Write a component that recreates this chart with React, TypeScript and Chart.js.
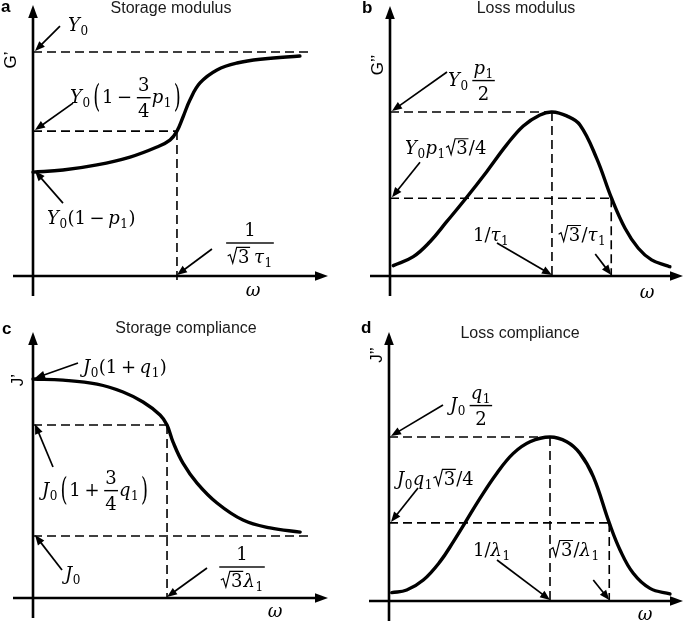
import React, { useEffect, useRef } from 'react';
import { Chart, registerables } from 'chart.js';
Chart.register(...registerables);

// ---------------- DATA (normalised units) ----------------
// a: Storage modulus G'(ω); x in units of 1/(√3 τ1), y in units of Y0
const storageModulusOmega = [0, 0.208, 0.444, 0.674, 0.861, 0.951, 1.0, 1.042, 1.09, 1.16, 1.278, 1.417, 1.597, 1.854];
const storageModulusValue = [0.464, 0.473, 0.496, 0.531, 0.576, 0.607, 0.647, 0.71, 0.786, 0.862, 0.92, 0.951, 0.969, 0.982];
const storageModulusLevels = [1, 0.647, 0.464]; // Y0, Y0(1-3/4 p1), Y0(1-p1)
const storageModulusFreq = [1]; // 1/(√3 τ1)
const storageModulusGuideEnd = 1.924;
const storageModulusGuideLow = -0.027;

// b: Loss modulus G''(ω); x in units of 1/τ1, y in units of Y0 p1/2
const lossModulusOmega = [0.02, 0.144, 0.247, 0.35, 0.469, 0.597, 0.72, 0.823, 0.926, 1.0, 1.091, 1.173, 1.276, 1.368, 1.451, 1.533, 1.615, 1.708, 1.728];
const lossModulusValue = [0.063, 0.118, 0.209, 0.331, 0.474, 0.636, 0.799, 0.915, 0.982, 1.0, 0.976, 0.921, 0.717, 0.474, 0.291, 0.169, 0.098, 0.063, 0.057];
const lossModulusLevels = [1, 0.474]; // Y0 p1/2, Y0 p1 √3/4
const lossModulusFreq = [1, 1.366]; // 1/τ1, √3/τ1

// c: Storage compliance J'(ω); x in units of 1/(√3 λ1), y in units of J0(1+q1)
const storageComplianceOmega = [0, 0.224, 0.478, 0.672, 0.821, 0.948, 1.0, 1.045, 1.119, 1.224, 1.373, 1.567, 1.769, 1.993];
const storageComplianceValue = [1.0, 0.995, 0.977, 0.941, 0.895, 0.836, 0.79, 0.712, 0.616, 0.525, 0.434, 0.356, 0.32, 0.301];
const storageComplianceLevels = [1, 0.79, 0.283]; // J0(1+q1), J0(1+3/4 q1), J0
const storageComplianceFreq = [1]; // 1/(√3 λ1)
const storageComplianceGuideEnd = 2.067;

// d: Loss compliance J''(ω); x in units of 1/λ1, y in units of J0 q1/2
const lossComplianceOmega = [0.017, 0.11, 0.213, 0.317, 0.4, 0.472, 0.565, 0.669, 0.772, 0.876, 1.0, 1.104, 1.186, 1.269, 1.368, 1.435, 1.517, 1.621, 1.745];
const lossComplianceValue = [0.051, 0.067, 0.128, 0.24, 0.362, 0.476, 0.626, 0.778, 0.9, 0.971, 1.0, 0.971, 0.9, 0.758, 0.476, 0.311, 0.169, 0.077, 0.043];
const lossComplianceLevels = [1, 0.476]; // J0 q1/2, J0 q1 √3/4
const lossComplianceFreq = [1, 1.368]; // 1/λ1, √3/λ1

// ---------------- math text helpers ----------------
const SERIF = '"DejaVu Serif", "Liberation Serif", serif';
const SANS = '"Liberation Sans", Arial, sans-serif';
const INK = '#000';
const FS = 18;

type M =
  | { k: 'i' | 'r' | 'sub' | 'op'; s: string }
  | { k: 'sp'; w: number }
  | { k: 'frac'; n: M[]; d: M[] }
  | { k: 'sqrt'; b: M[] }
  | { k: 'paren'; b: M[] };

const I = (s: string): M => ({ k: 'i', s });
const R = (s: string): M => ({ k: 'r', s });
const S = (s: string): M => ({ k: 'sub', s });
const OP = (s: string): M => ({ k: 'op', s });
const SP = (w: number): M => ({ k: 'sp', w });
const FR = (n: M[], d: M[]): M => ({ k: 'frac', n, d });
const SQ = (b: M[]): M => ({ k: 'sqrt', b });
const PA = (b: M[]): M => ({ k: 'paren', b });

function mathRender(ctx: CanvasRenderingContext2D, items: M[], x: number, y: number, fs: number, draw: boolean): number {
  let cx = x;
  for (const it of items) {
    if (it.k === 'i' || it.k === 'r') {
      ctx.font = `${it.k === 'i' ? 'italic ' : ''}${fs}px ${SERIF}`;
      if (draw) ctx.fillText((it as any).s, cx, y);
      cx += ctx.measureText((it as any).s).width;
    } else if (it.k === 'sub') {
      const s = Math.round(fs * 0.68);
      ctx.font = `${s}px ${SERIF}`;
      if (draw) ctx.fillText(it.s, cx + 0.5, y + fs * 0.22);
      cx += ctx.measureText(it.s).width + 1;
    } else if (it.k === 'op') {
      ctx.font = `${fs}px ${SERIF}`;
      const g = fs * 0.2;
      if (draw) ctx.fillText(it.s, cx + g, y);
      cx += ctx.measureText(it.s).width + 2 * g;
    } else if (it.k === 'sp') {
      cx += it.w * fs;
    } else if (it.k === 'frac') {
      const nw = mathRender(ctx, it.n, 0, 0, fs, false);
      const dw = mathRender(ctx, it.d, 0, 0, fs, false);
      const w = Math.max(nw, dw) + fs * 0.25;
      const axis = y - fs * 0.3;
      if (draw) {
        mathRender(ctx, it.n, cx + (w - nw) / 2, axis - fs * 0.38, fs, true);
        mathRender(ctx, it.d, cx + (w - dw) / 2, axis + fs * 1.1, fs, true);
        ctx.fillRect(cx + fs * 0.06, axis - 0.7, w - fs * 0.12, 1.4);
      }
      cx += w;
    } else if (it.k === 'sqrt') {
      const bw = mathRender(ctx, it.b, 0, 0, fs, false);
      const rw = fs * 0.55;
      if (draw) {
        const top = y - fs * 0.86;
        ctx.save();
        ctx.lineWidth = Math.max(1.1, fs * 0.065);
        ctx.beginPath();
        ctx.moveTo(cx + fs * 0.02, y - fs * 0.38);
        ctx.lineTo(cx + rw * 0.28, y - fs * 0.46);
        ctx.lineTo(cx + rw * 0.55, y + fs * 0.02);
        ctx.lineTo(cx + rw * 0.95, top);
        ctx.lineTo(cx + rw + bw + fs * 0.08, top);
        ctx.stroke();
        ctx.restore();
        mathRender(ctx, it.b, cx + rw + fs * 0.04, y, fs, true);
      }
      cx += rw + bw + fs * 0.1;
    } else if (it.k === 'paren') {
      const bw = mathRender(ctx, it.b, 0, 0, fs, false);
      ctx.font = `${fs}px ${SERIF}`;
      const pw = ctx.measureText('(').width;
      const sc = 1.8;
      const axis = y - fs * 0.3;
      if (draw) {
        const drawP = (ch: string, px: number) => {
          ctx.save();
          ctx.translate(px, axis);
          ctx.scale(1, sc);
          ctx.font = `${fs}px ${SERIF}`;
          ctx.fillText(ch, 0, fs * 0.3);
          ctx.restore();
        };
        drawP('(', cx);
        mathRender(ctx, it.b, cx + pw + fs * 0.1, y, fs, true);
        drawP(')', cx + pw + fs * 0.2 + bw);
      }
      cx += 2 * pw + bw + fs * 0.2;
    }
  }
  return cx - x;
}

function arrow(ctx: CanvasRenderingContext2D, x1: number, y1: number, x2: number, y2: number) {
  const ang = Math.atan2(y2 - y1, x2 - x1);
  const L = 10, W = 4;
  const c = Math.cos(ang), s = Math.sin(ang);
  ctx.lineWidth = 1.7;
  ctx.beginPath();
  ctx.moveTo(x1, y1);
  ctx.lineTo(x2 - L * 0.8 * c, y2 - L * 0.8 * s);
  ctx.stroke();
  ctx.beginPath();
  ctx.moveTo(x2, y2);
  ctx.lineTo(x2 - L * c + W * s, y2 - L * s - W * c);
  ctx.lineTo(x2 - L * c - W * s, y2 - L * s + W * c);
  ctx.closePath();
  ctx.fill();
}

// ---------------- panel specs ----------------
interface Ann { tip: [number, number]; tail: [number, number]; at: [number, number]; label: M[]; center?: boolean }
interface Panel {
  x: number; y: number; w: number; h: number;
  pad: [number, number, number, number];
  xMax: number; yMax: number;
  letter: string; letterPos: [number, number];
  title: string; titlePos: [number, number];
  ylabel: string; ylabelPos: [number, number];
  omegaPos: [number, number];
  curveX: number[]; curveY: number[];
  guides: { x: number; y: number }[][];
  anns: Ann[];
}

const panels: Panel[] = [
  {
    x: 0, y: 0, w: 342, h: 311, pad: [33, 5, 14, 35], xMax: 2.049, yMax: 1.21,
    letter: 'a', letterPos: [1, 12], title: 'Storage modulus', titlePos: [171, 9],
    ylabel: 'G’', ylabelPos: [11, 60], omegaPos: [253, 296],
    curveX: storageModulusOmega, curveY: storageModulusValue,
    guides: [
      [{ x: 0, y: storageModulusLevels[0] }, { x: storageModulusGuideEnd, y: storageModulusLevels[0] }],
      [{ x: 0, y: storageModulusLevels[1] }, { x: storageModulusFreq[0], y: storageModulusLevels[1] }],
      [{ x: storageModulusFreq[0], y: storageModulusLevels[1] }, { x: storageModulusFreq[0], y: storageModulusGuideLow }],
    ],
    anns: [
      { tip: [0, storageModulusLevels[0]], tail: [27, -26], at: [35, -21], label: [I('Y'), S('0')] },
      { tip: [0, storageModulusLevels[1]], tail: [40, -28], at: [37, -28], label: [I('Y'), S('0'), SP(0.15), PA([R('1'), OP('−'), FR([R('3')], [R('4')]), I('p'), S('1')])] },
      { tip: [0, storageModulusLevels[2]], tail: [30, 31], at: [14, 52], label: [I('Y'), S('0'), R('('), R('1'), OP('−'), I('p'), S('1'), R(')')] },
      { tip: [storageModulusFreq[0], 0], tail: [35, -27], at: [73, -33], center: true, label: [FR([R('1')], [SQ([R('3')]), SP(0.2), I('τ'), S('1')])] },
    ],
  },
  {
    x: 342, y: 0, w: 343, h: 311, pad: [48, 6, 2, 35], xMax: 1.809, yMax: 1.646,
    letter: 'b', letterPos: [20, 13], title: 'Loss modulus', titlePos: [184, 9],
    ylabel: 'G’’', ylabelPos: [36, 65], omegaPos: [305, 298],
    curveX: lossModulusOmega, curveY: lossModulusValue,
    guides: [
      [{ x: 0, y: lossModulusLevels[0] }, { x: lossModulusFreq[0], y: lossModulusLevels[0] }],
      [{ x: lossModulusFreq[0], y: lossModulusLevels[0] }, { x: lossModulusFreq[0], y: 0 }],
      [{ x: 0, y: lossModulusLevels[1] }, { x: lossModulusFreq[1], y: lossModulusLevels[1] }],
      [{ x: lossModulusFreq[1], y: lossModulusLevels[1] }, { x: lossModulusFreq[1], y: 0 }],
    ],
    anns: [
      { tip: [0, lossModulusLevels[0]], tail: [57, -40], at: [58, -26], label: [I('Y'), S('0'), SP(0.15), FR([I('p'), S('1')], [R('2')])] },
      { tip: [0, lossModulusLevels[1]], tail: [30, -36], at: [15, -44], label: [I('Y'), S('0'), I('p'), S('1'), SQ([R('3')]), R('/'), R('4')] },
      { tip: [lossModulusFreq[0], 0], tail: [-55, -33], at: [-79, -35], label: [R('1'), R('/'), I('τ'), S('1')] },
      { tip: [lossModulusFreq[1], 0], tail: [-16, -22], at: [-53, -35], label: [SQ([R('3')]), R('/'), I('τ'), S('1')] },
    ],
  },
  {
    x: 0, y: 311, w: 342, h: 312, pad: [33, 21, 14, 25], xMax: 2.201, yMax: 1.215,
    letter: 'c', letterPos: [2, 23], title: 'Storage compliance', titlePos: [186, 18],
    ylabel: 'J’', ylabelPos: [18, 69], omegaPos: [275, 306],
    curveX: storageComplianceOmega, curveY: storageComplianceValue,
    guides: [
      [{ x: 0, y: storageComplianceLevels[1] }, { x: storageComplianceFreq[0], y: storageComplianceLevels[1] }],
      [{ x: storageComplianceFreq[0], y: storageComplianceLevels[1] }, { x: storageComplianceFreq[0], y: 0 }],
      [{ x: 0, y: storageComplianceLevels[2] }, { x: storageComplianceGuideEnd, y: storageComplianceLevels[2] }],
    ],
    anns: [
      { tip: [0, storageComplianceLevels[0]], tail: [45, -16], at: [50, -6], label: [I('J'), S('0'), R('('), R('1'), OP('+'), I('q'), S('1'), R(')')] },
      { tip: [0, storageComplianceLevels[1]], tail: [20, 42], at: [9, 71], label: [I('J'), S('0'), SP(0.15), PA([R('1'), OP('+'), FR([R('3')], [R('4')]), I('q'), S('1')])] },
      { tip: [0, storageComplianceLevels[2]], tail: [29, 34], at: [32, 44], label: [I('J'), S('0')] },
      { tip: [storageComplianceFreq[0], 0], tail: [40, -30], at: [75, -31], center: true, label: [FR([R('1')], [SQ([R('3')]), I('λ'), S('1')])] },
    ],
  },
  {
    x: 342, y: 311, w: 343, h: 312, pad: [47, 21, 2, 22], xMax: 1.826, yMax: 1.64,
    letter: 'd', letterPos: [19, 22], title: 'Loss compliance', titlePos: [178, 23],
    ylabel: 'J’’', ylabelPos: [35, 44], omegaPos: [303, 309],
    curveX: lossComplianceOmega, curveY: lossComplianceValue,
    guides: [
      [{ x: 0, y: lossComplianceLevels[0] }, { x: lossComplianceFreq[0], y: lossComplianceLevels[0] }],
      [{ x: lossComplianceFreq[0], y: lossComplianceLevels[0] }, { x: lossComplianceFreq[0], y: 0 }],
      [{ x: 0, y: lossComplianceLevels[1] }, { x: lossComplianceFreq[1], y: lossComplianceLevels[1] }],
      [{ x: lossComplianceFreq[1], y: lossComplianceLevels[1] }, { x: lossComplianceFreq[1], y: 0 }],
    ],
    anns: [
      { tip: [0, lossComplianceLevels[0]], tail: [54, -32], at: [61, -26], label: [I('J'), S('0'), SP(0.15), FR([I('q'), S('1')], [R('2')])] },
      { tip: [0, lossComplianceLevels[1]], tail: [29, -35], at: [8, -38], label: [I('J'), S('0'), I('q'), S('1'), SQ([R('3')]), R('/'), R('4')] },
      { tip: [lossComplianceFreq[0], 0], tail: [-53, -41], at: [-77, -45], label: [R('1'), R('/'), I('λ'), S('1')] },
      { tip: [lossComplianceFreq[1], 0], tail: [-16, -21], at: [-59, -45], label: [SQ([R('3')]), R('/'), I('λ'), S('1')] },
    ],
  },
];

function overlay(p: Panel) {
  return {
    id: 'overlay',
    afterDatasetsDraw(chart: any) {
      const ctx: CanvasRenderingContext2D = chart.ctx;
      const { left, right, top, bottom } = chart.chartArea;
      const xs = chart.scales.x, ys = chart.scales.y;
      ctx.save();
      ctx.fillStyle = INK;
      ctx.strokeStyle = INK;
      ctx.setLineDash([]);
      // axes
      ctx.lineWidth = 2.6;
      ctx.beginPath();
      ctx.moveTo(left, bottom + 20);
      ctx.lineTo(left, top + 10);
      ctx.moveTo(left - 20, bottom);
      ctx.lineTo(right - 10, bottom);
      ctx.stroke();
      ctx.beginPath();
      ctx.moveTo(left, top);
      ctx.lineTo(left - 4.8, top + 13);
      ctx.lineTo(left + 4.8, top + 13);
      ctx.closePath();
      ctx.fill();
      ctx.beginPath();
      ctx.moveTo(right, bottom);
      ctx.lineTo(right - 13, bottom - 4.8);
      ctx.lineTo(right - 13, bottom + 4.8);
      ctx.closePath();
      ctx.fill();

      // annotations
      ctx.textAlign = 'left';
      ctx.textBaseline = 'alphabetic';
      for (const a of p.anns) {
        const tx = xs.getPixelForValue(a.tip[0]);
        const ty = ys.getPixelForValue(a.tip[1]);
        const onY = a.tip[0] === 0;
        arrow(ctx, tx + a.tail[0], ty + a.tail[1], tx + (onY ? 2 : 0), ty - 1);
        if (a.center) {
          const w = mathRender(ctx, a.label, 0, 0, FS, false);
          mathRender(ctx, a.label, tx + a.at[0] - w / 2, ty + a.at[1] + FS * 0.3, FS, true);
        } else {
          mathRender(ctx, a.label, tx + a.at[0], ty + a.at[1], FS, true);
        }
      }
      // omega
      ctx.font = `italic ${FS}px ${SERIF}`;
      ctx.textAlign = 'center';
      ctx.fillText('ω', p.omegaPos[0], p.omegaPos[1]);
      // title
      ctx.font = `16px ${SANS}`;
      ctx.fillStyle = '#1a1a1a';
      ctx.textBaseline = 'middle';
      ctx.fillText(p.title, p.titlePos[0], p.titlePos[1]);
      // letter
      ctx.font = `bold 17px ${SANS}`;
      ctx.fillStyle = INK;
      ctx.textAlign = 'left';
      ctx.textBaseline = 'alphabetic';
      ctx.fillText(p.letter, p.letterPos[0], p.letterPos[1]);
      // y label
      ctx.save();
      ctx.translate(p.ylabelPos[0], p.ylabelPos[1]);
      ctx.rotate(-Math.PI / 2);
      ctx.font = `17px ${SANS}`;
      ctx.textAlign = 'center';
      ctx.textBaseline = 'middle';
      ctx.fillText(p.ylabel, 0, 0);
      ctx.restore();
      ctx.restore();
    },
  };
}

function PanelChart({ p }: { p: Panel }) {
  const ref = useRef<HTMLCanvasElement>(null);
  useEffect(() => {
    const datasets: any[] = [
      {
        data: p.curveX.map((x, i) => ({ x, y: p.curveY[i] })),
        showLine: true,
        borderColor: INK,
        borderWidth: 3.4,
        pointRadius: 0,
        tension: 0.4,
        clip: false,
        borderCapStyle: 'round',
        borderJoinStyle: 'round',
      },
      ...p.guides.map((g) => ({
        data: g,
        showLine: true,
        borderColor: INK,
        borderWidth: 1.6,
        borderDash: [9, 5],
        pointRadius: 0,
        tension: 0,
        clip: false,
      })),
    ];
    const chart = new Chart(ref.current as HTMLCanvasElement, {
      type: 'scatter',
      data: { datasets },
      options: {
        responsive: false,
        animation: false,
        devicePixelRatio: 1,
        events: [],
        layout: { padding: { left: p.pad[0], top: p.pad[1], right: p.pad[2], bottom: p.pad[3] } },
        scales: {
          x: { type: 'linear', min: 0, max: p.xMax, display: false },
          y: { type: 'linear', min: 0, max: p.yMax, display: false },
        },
        plugins: { legend: { display: false }, tooltip: { enabled: false }, title: { display: false } },
      } as any,
      plugins: [overlay(p) as any],
    });
    return () => chart.destroy();
  }, []);
  return (
    <canvas
      ref={ref}
      width={p.w}
      height={p.h}
      style={{ position: 'absolute', left: p.x, top: p.y, width: p.w, height: p.h, display: 'block' }}
    />
  );
}

export default function App() {
  return (
    <div style={{ position: 'absolute', left: 0, top: 0, width: 685, height: 623, background: '#fff', overflow: 'hidden' }}>
      {panels.map((p, i) => (
        <PanelChart key={i} p={p} />
      ))}
    </div>
  );
}
